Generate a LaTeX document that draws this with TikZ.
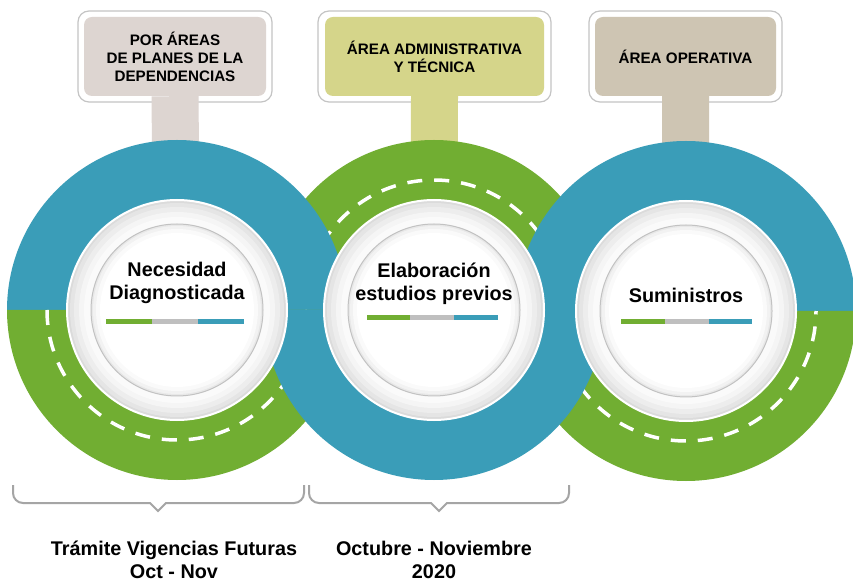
\documentclass[tikz,border=0pt]{standalone}
\usepackage{fontspec}
\setmainfont{Liberation Sans}
\usetikzlibrary{calc}
\definecolor{cblue}{RGB}{58,157,184}
\definecolor{cgreen}{RGB}{113,174,50}
\definecolor{boxa}{RGB}{221,213,209}
\definecolor{boxb}{RGB}{213,213,138}
\definecolor{boxc}{RGB}{206,197,179}
\definecolor{framegray}{RGB}{196,196,196}
\definecolor{bargray}{RGB}{191,191,191}
\definecolor{brk}{RGB}{165,165,165}
\begin{document}
\begin{tikzpicture}[x=1pt,y=1pt,
  boxframe/.style={draw=framegray, line width=1.2pt, fill=white, rounded corners=11pt, minimum height=91pt, inner sep=0pt},
  boxtext/.style={rounded corners=8pt, font=\bfseries\fontsize{15.2}{18}\selectfont, align=center, text=black, inner sep=0pt, minimum height=79pt},
  circtext/.style={font=\bfseries\fontsize{19.8}{23}\selectfont, align=center, inner sep=0pt, text=black},
  dashring/.style={draw=white, line width=3.5pt, dash pattern=on 15pt off 12pt},
  brace/.style={draw=brk, line width=2pt},
  barline/.style={line width=5pt},
  stemline/.style={line width=47pt},
]
\clip (0,0) rectangle (853,581);
\fill[white] (0,0) rectangle (853,581);

\coordinate (c1) at (177,271);
\coordinate (c2) at (434,271);
\coordinate (c3) at (686,270);

% top label frames and boxes
\node[boxframe, minimum width=194pt] (f1) at (175,524.5) {};
\node[boxframe, minimum width=233pt] (f2) at (434.5,524.5) {};
\node[boxframe, minimum width=193pt] (f3) at (685.5,524.5) {};
\node[boxtext, fill=boxa, minimum width=182pt] (b1) at (175,524.5) {POR ÁREAS\\DE PLANES DE LA\\DEPENDENCIAS};
\node[boxtext, fill=boxb, minimum width=219pt] (b2) at (434.5,524.5) {ÁREA ADMINISTRATIVA\\Y TÉCNICA};
\node[boxtext, fill=boxc, minimum width=181pt] (b3) at (685.5,524.5) {ÁREA OPERATIVA};
\draw[stemline, boxa] (b1.south) -- (c1);
\draw[stemline, boxb] (b2.south) -- (c2);
\draw[stemline, boxc] (b3.south) -- (c3);

% interlocking rings
\fill[cgreen] (c2) ++(0:170pt) arc[start angle=0, end angle=180, radius=170pt] -- cycle;
\draw[dashring] (c2) ++(0:130pt) arc[start angle=0, end angle=180, radius=130pt];
\fill[cblue] (c1) ++(0:170pt) arc[start angle=0, end angle=180, radius=170pt] -- cycle;
\fill[cblue] (c3) ++(0:170pt) arc[start angle=0, end angle=180, radius=170pt] -- cycle;
\fill[cgreen] (c1) ++(180:170pt) arc[start angle=180, end angle=360, radius=170pt] -- cycle;
\draw[dashring] (c1) ++(180:130pt) arc[start angle=180, end angle=360, radius=130pt];
\fill[cgreen] (c3) ++(180:170pt) arc[start angle=180, end angle=360, radius=170pt] -- cycle;
\draw[dashring] (c3) ++(180:130pt) arc[start angle=180, end angle=360, radius=130pt];
\fill[cblue] (c2) ++(180:170pt) arc[start angle=180, end angle=360, radius=170pt] -- cycle;

% white discs with soft grey relief
\foreach \c in {c1,c2,c3}{
  \fill[black!14] (\c) circle[radius=110pt];
  \fill[black!10] (\c) circle[radius=107pt];
  \fill[black!7] (\c) circle[radius=103pt];
  \fill[black!4] (\c) circle[radius=98pt];
  \fill[black!2] (\c) circle[radius=93pt];
  \draw[white, line width=2pt] (\c) circle[radius=110pt];
  \fill[black!9] (\c) circle[radius=86pt];
  \fill[black!5] (\c) circle[radius=84pt];
  \fill[black!2] (\c) circle[radius=81pt];
  \fill[white] (\c) circle[radius=77pt];
  \draw[black!24, line width=1pt] (\c) circle[radius=86pt];
}

% circle texts
\node[circtext, anchor=base] (t1) at (177,281) {Necesidad\\Diagnosticada};
\node[circtext, anchor=base] (t2) at (434,280) {Elaboración\\estudios previos};
\node[circtext, anchor=base] (t3) at (686,278) {Suministros};

% tri-colour bars
\draw[barline, cgreen] (106,259) -- (152,259);
\draw[barline, bargray] (152,259) -- (198,259);
\draw[barline, cblue] (198,259) -- (244,259);
\draw[barline, cgreen] (367,263) -- (410,263);
\draw[barline, bargray] (410,263) -- (454,263);
\draw[barline, cblue] (454,263) -- (498,263);
\draw[barline, cgreen] (621,259) -- (665,259);
\draw[barline, bargray] (665,259) -- (709,259);
\draw[barline, cblue] (709,259) -- (752,259);

% brackets
\draw[brace] (13,96) -- (13,88) arc[start angle=180, end angle=270, radius=10pt] -- (150,78) -- (158,70) -- (166,78) -- (294,78) arc[start angle=270, end angle=360, radius=10pt] -- (304,96);
\draw[brace] (309,96) -- (309,88) arc[start angle=180, end angle=270, radius=10pt] -- (431,78) -- (439,70) -- (447,78) -- (559,78) arc[start angle=270, end angle=360, radius=10pt] -- (569,96);

% bottom labels
\node[circtext, anchor=base] (l1) at (174,3) {Trámite Vigencias Futuras\\Oct - Nov};
\node[circtext, anchor=base] (l2) at (434,3) {Octubre - Noviembre\\2020};
\end{tikzpicture}
\end{document}
